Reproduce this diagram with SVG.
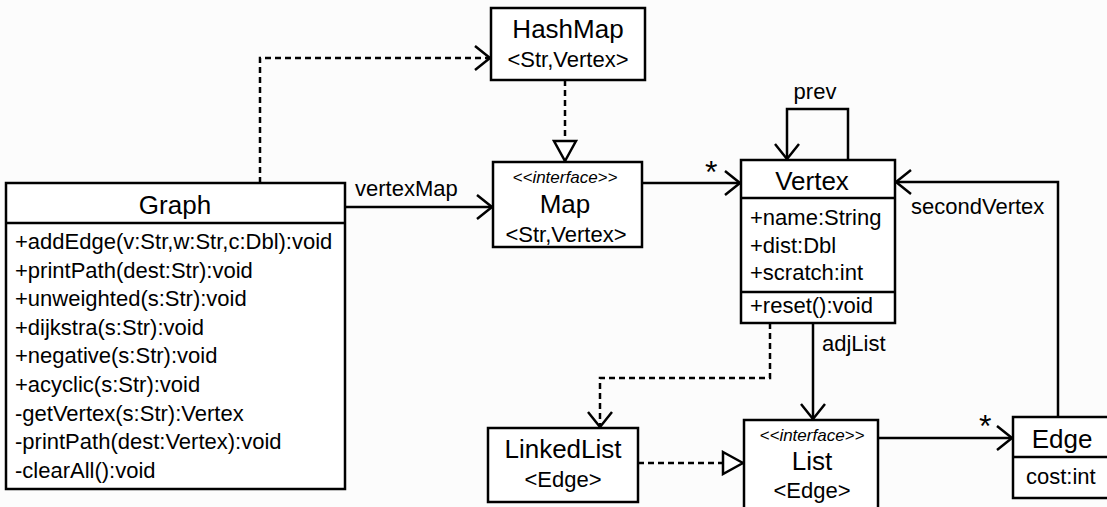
<svg xmlns="http://www.w3.org/2000/svg" width="1107" height="507" viewBox="0 0 1107 507">
<style>
.box{fill:#fff;stroke:#000;stroke-width:2.5}
.div{stroke:#000;stroke-width:2.5}
.t{font-family:"Liberation Sans",Arial,sans-serif;fill:#000}
.title{font-size:26px}
.mem{font-size:22px}
.st{font-size:17px;font-style:italic}
.lbl{font-size:22px}
.star{font-size:32px}
.c{stroke:#000;stroke-width:2.5;fill:none}
.d{stroke-dasharray:6 4}
</style>
<defs>
<marker id="open" viewBox="0 0 20 26" refX="18" refY="13" markerWidth="20" markerHeight="26" markerUnits="userSpaceOnUse" orient="auto">
<path d="M3,1 L18,13 L3,25" fill="none" stroke="#000" stroke-width="2.5"/>
</marker>
<marker id="tri" viewBox="0 0 24 26" refX="22" refY="13" markerWidth="24" markerHeight="26" markerUnits="userSpaceOnUse" orient="auto">
<path d="M2,2 L22,13 L2,24 Z" fill="#fff" stroke="#000" stroke-width="2.5"/>
</marker>
</defs>
<rect width="1107" height="507" fill="#fcfcfc"/>
<g id="connectors">
<path class="c d" d="M260,183 V58 H490" marker-end="url(#open)"/>
<path class="c d" d="M565,80 V161" marker-end="url(#tri)"/>
<path class="c" d="M345,207 H492" marker-end="url(#open)"/>
<path class="c" d="M642,183 H740" marker-end="url(#open)"/>
<path class="c" d="M848,160 V109 H787 V159" marker-end="url(#open)"/>
<path class="c" d="M1058,417 V182 H896" marker-end="url(#open)"/>
<path class="c d" d="M770,323 V378 H600 V427" marker-end="url(#open)"/>
<path class="c" d="M813,323 V419" marker-end="url(#open)"/>
<path class="c d" d="M638,463 H743" marker-end="url(#tri)"/>
<path class="c" d="M878,438 H1012" marker-end="url(#open)"/>
<text class="t lbl" x="355" y="196">vertexMap</text>
<text class="t star" x="705" y="183">*</text>
<text class="t lbl" x="815" y="99" text-anchor="middle">prev</text>
<text class="t lbl" x="911" y="214">secondVertex</text>
<text class="t lbl" x="822" y="351">adjList</text>
<text class="t star" x="979" y="437">*</text>
</g>
<g id="Graph">
<rect class="box" x="6" y="183" width="339" height="306"/>
<line class="div" x1="6" y1="223" x2="345" y2="223"/>
<text class="t title" x="175" y="214" text-anchor="middle">Graph</text>
<text class="t mem" x="15" y="249">+addEdge(v:Str,w:Str,c:Dbl):void</text>
<text class="t mem" x="15" y="277.6">+printPath(dest:Str):void</text>
<text class="t mem" x="15" y="306.2">+unweighted(s:Str):void</text>
<text class="t mem" x="15" y="334.8">+dijkstra(s:Str):void</text>
<text class="t mem" x="15" y="363.4">+negative(s:Str):void</text>
<text class="t mem" x="15" y="392">+acyclic(s:Str):void</text>
<text class="t mem" x="15" y="420.6">-getVertex(s:Str):Vertex</text>
<text class="t mem" x="15" y="449.2">-printPath(dest:Vertex):void</text>
<text class="t mem" x="15" y="477.8">-clearAll():void</text>
</g>
<g id="HashMap">
<rect class="box" x="491" y="8" width="154" height="72"/>
<text class="t title" x="568" y="38" text-anchor="middle">HashMap</text>
<text class="t mem" x="568" y="67" text-anchor="middle">&lt;Str,Vertex&gt;</text>
</g>
<g id="Map">
<rect class="box" x="493" y="162" width="149" height="85"/>
<text class="t st" x="565" y="183" text-anchor="middle">&lt;&lt;interface&gt;&gt;</text>
<text class="t title" x="565" y="213" text-anchor="middle">Map</text>
<text class="t mem" x="566" y="242" text-anchor="middle">&lt;Str,Vertex&gt;</text>
</g>
<g id="Vertex">
<rect class="box" x="741" y="160" width="154" height="163"/>
<line class="div" x1="741" y1="198" x2="895" y2="198"/>
<line class="div" x1="741" y1="292" x2="895" y2="292"/>
<text class="t title" x="812" y="190" text-anchor="middle">Vertex</text>
<text class="t mem" x="750" y="225">+name:String</text>
<text class="t mem" x="750" y="253">+dist:Dbl</text>
<text class="t mem" x="750" y="280">+scratch:int</text>
<text class="t mem" x="750" y="313">+reset():void</text>
</g>
<g id="LinkedList">
<rect class="box" x="488" y="428" width="150" height="74"/>
<text class="t title" x="563" y="458" text-anchor="middle">LinkedList</text>
<text class="t mem" x="563" y="487" text-anchor="middle">&lt;Edge&gt;</text>
</g>
<g id="List">
<rect class="box" x="744" y="420" width="134" height="100"/>
<text class="t st" x="812" y="441" text-anchor="middle">&lt;&lt;interface&gt;&gt;</text>
<text class="t title" x="812" y="470" text-anchor="middle">List</text>
<text class="t mem" x="812" y="498" text-anchor="middle">&lt;Edge&gt;</text>
</g>
<g id="Edge">
<rect class="box" x="1013" y="417" width="110" height="81"/>
<line class="div" x1="1013" y1="457" x2="1110" y2="457"/>
<text class="t title" x="1062" y="448" text-anchor="middle">Edge</text>
<text class="t mem" x="1026" y="484">cost:int</text>
</g>
</svg>
